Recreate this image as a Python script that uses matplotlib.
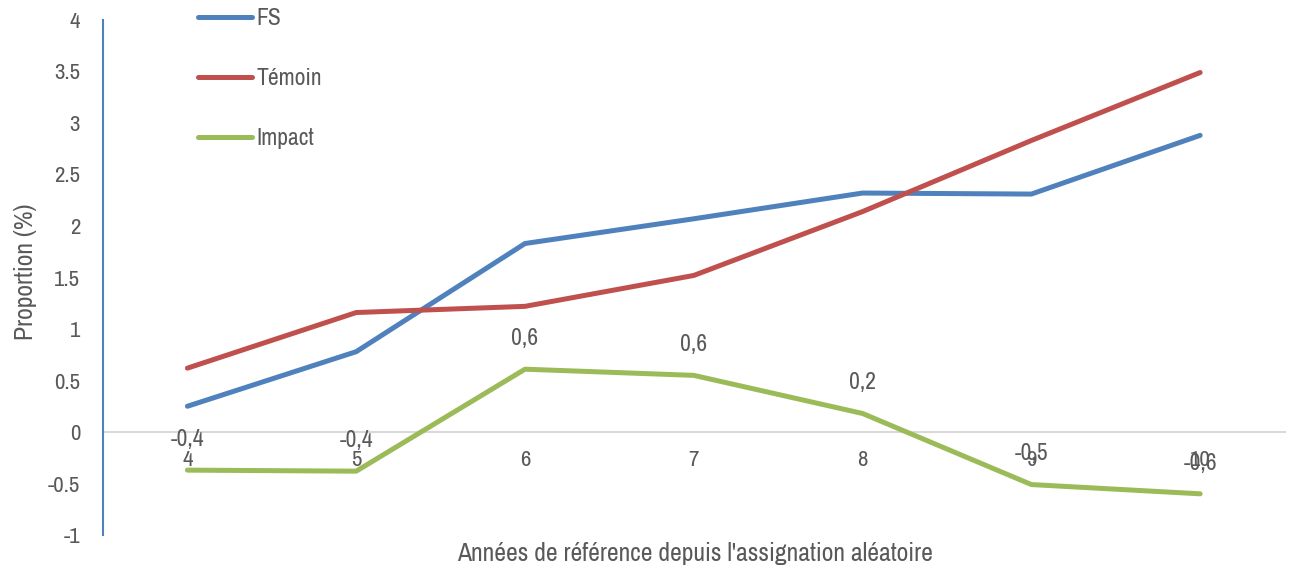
import matplotlib
matplotlib.use("Agg")
import matplotlib.pyplot as plt
from matplotlib.ticker import FuncFormatter

plt.rcParams["font.family"] = ["Liberation Sans Narrow", "Archivo Narrow", "DejaVu Sans"]

years = [4, 5, 6, 7, 8, 9, 10]
fs = [0.25, 0.78, 1.83, 2.07, 2.32, 2.31, 2.88]
temoin = [0.62, 1.16, 1.22, 1.52, 2.14, 2.83, 3.49]
impact = [-0.37, -0.38, 0.61, 0.55, 0.18, -0.51, -0.60]
impact_labels = ["-0,4", "-0,4", "0,6", "0,6", "0,2", "-0,5", "-0,6"]

grey = "#595959"

fig = plt.figure(figsize=(12.91, 5.71), dpi=100)
ax = fig.add_axes([0.0798, 0.063, 0.9152, 0.902])

ax.plot(years, fs, color="#4F81BD", lw=3.6, solid_capstyle="round", label="FS")
ax.plot(years, temoin, color="#C0504D", lw=3.6, solid_capstyle="round", label="Témoin")
ax.plot(years, impact, color="#9BBB59", lw=3.6, solid_capstyle="round", label="Impact")

for x, y, t in zip(years, impact, impact_labels):
    ax.annotate(t, (x, y), xytext=(0, 22), textcoords="offset points",
                ha="center", va="center", fontsize=17, color=grey)

ax.set_xlim(3.5, 10.5)
ax.set_ylim(-1, 4)
ax.set_yticks([-1, -0.5, 0, 0.5, 1, 1.5, 2, 2.5, 3, 3.5, 4])
ax.yaxis.set_major_formatter(FuncFormatter(lambda v, p: f"{v:g}"))
ax.set_xticks(years)

for s in ["top", "right"]:
    ax.spines[s].set_visible(False)
ax.spines["left"].set_color("#4F81BD")
ax.spines["left"].set_linewidth(1.5)
ax.spines["bottom"].set_position(("data", 0))
ax.spines["bottom"].set_color("#D9D9D9")
ax.spines["bottom"].set_linewidth(1.5)
ax.spines["bottom"].set_zorder(0)

ax.tick_params(axis="y", length=0, pad=16.5, labelsize=16.5, labelcolor=grey)
ax.tick_params(axis="x", length=0, pad=13, labelsize=16.5, labelcolor=grey)

fig.text(0.0194, 0.524, "Proportion (%)", rotation=90, ha="center", va="center",
         fontsize=18.5, color=grey)
fig.text(0.538, 0.031, "Années de référence depuis l'assignation aléatoire",
         ha="center", va="center", fontsize=18.5, color=grey)

leg = ax.legend(loc="upper left", bbox_to_anchor=(0.0702, 1.046), frameon=False,
                borderpad=0, fontsize=17, labelspacing=1.65, handlelength=2.3,
                handletextpad=0.17)
for t in leg.get_texts():
    t.set_color(grey)

fig.savefig("out.png", dpi=100)
